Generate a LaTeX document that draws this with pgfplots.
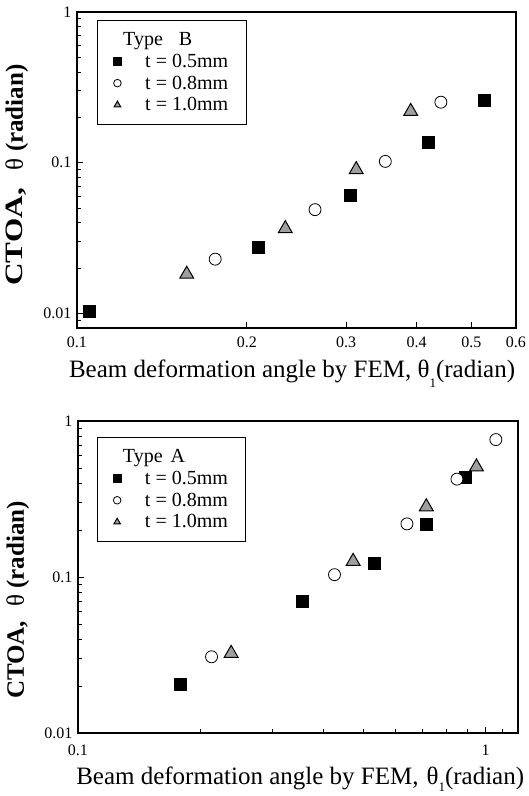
\documentclass[border=0pt]{standalone}
\usepackage{pgfplots}
\pgfplotsset{compat=1.18}
\usepackage{graphicx}
\usepackage{fontspec}
\setmainfont{Liberation Serif}

\pgfplotsset{
  legend image code/.code={\draw[#1, mark size=3.8pt, line width=0.6pt] plot coordinates {(0pt,0pt)};},
  sq/.style={only marks, mark=square*, mark size=6pt, mark options={fill=black, draw=black}},
  ci/.style={only marks, mark=*, mark size=6pt, mark options={fill=white, draw=black, line width=0.8pt}},
  tr/.style={only marks, mark=triangle*, mark size=8pt, mark options={fill=gray!75, draw=black, line width=1pt}},
}

\begin{document}
\begin{tikzpicture}
\path[use as bounding box] (0,0) rectangle (529pt,796pt);

% ---------- Top: Type B ----------
\begin{axis}[
  xmode=log, ymode=log,
  scale only axis,
  axis line style={line width=1.3pt},
  tick align=inside,
  tick pos=left,
  major tick length=6pt,
  minor tick length=4pt,
  every tick/.style={line width=0.9pt, black},
  /pgf/number format/assume math mode=true,
  tick label style={font=\fontsize{16}{18}\selectfont},
  xticklabel style={yshift=-5pt},
  yticklabel style={xshift=-2pt},
  legend cell align=left,
  legend style={font=\fontsize{20}{22}\selectfont, draw=black, line width=0.9pt,
    inner xsep=16pt, inner ysep=10pt, row sep=3pt,
    /tikz/every odd column/.append style={column sep=22pt}},
  at={(77pt,468pt)}, anchor=south west,
  width=439pt, height=316pt,
  xmin=0.1, xmax=0.6, ymin=0.008, ymax=1,
  xtick={0.1,0.2,0.3,0.4,0.5,0.6},
  xticklabels={0.1,0.2,0.3,0.4,0.5,0.6},
  minor xtick={},
  ytick={0.01,0.1,1},
  yticklabels={0.01,0.1,1},
  minor ytick={0.009,0.02,0.03,0.04,0.05,0.06,0.07,0.08,0.09,0.2,0.3,0.4,0.5,0.6,0.7,0.8,0.9},
  xlabel={Beam deformation angle by FEM, θ\raisebox{-0.4em}{\fontsize{13}{13}\selectfont 1}(radian)},
  xlabel style={font=\fontsize{25}{28}\selectfont, at={(axis description cs:0.49,-0.145)}, anchor=center},
  ylabel={\bfseries \scalebox{1.25}[1]{CTOA,}\hspace{18pt}{\mdseries θ} (radian)},
  ylabel style={font=\fontsize{25}{28}\selectfont, at={(axis description cs:-0.137,0.484)}, anchor=center},
  legend style={at={(axis description cs:0.046,0.975)}, anchor=north west},
]
\addlegendimage{empty legend}
\addlegendentry{\hspace*{-22pt}Type\hspace{16pt}B}
\addplot[sq] coordinates {(0.105,0.0103) (0.2095,0.0273) (0.3055,0.0608) (0.42,0.136) (0.527,0.258)};
\addlegendentry{t = 0.5mm}
\addplot[ci] coordinates {(0.1758,0.0229) (0.2642,0.0488) (0.352,0.102) (0.4416,0.252)};
\addlegendentry{t = 0.8mm}
\addplot[tr] coordinates {(0.1565,0.0182) (0.234,0.0365) (0.3126,0.090) (0.3905,0.219)};
\addlegendentry{t = 1.0mm}
\end{axis}

% ---------- Bottom: Type A ----------
\begin{axis}[
  xmode=log, ymode=log,
  scale only axis,
  axis line style={line width=1.3pt},
  tick align=inside,
  tick pos=left,
  major tick length=6pt,
  minor tick length=4pt,
  every tick/.style={line width=0.9pt, black},
  /pgf/number format/assume math mode=true,
  tick label style={font=\fontsize{16}{18}\selectfont},
  xticklabel style={yshift=-8pt},
  yticklabel style={xshift=-2pt},
  legend cell align=left,
  legend style={font=\fontsize{20}{22}\selectfont, draw=black, line width=0.9pt,
    inner xsep=16pt, inner ysep=10pt, row sep=3pt,
    /tikz/every odd column/.append style={column sep=22pt}},
  at={(78pt,63pt)}, anchor=south west,
  width=440pt, height=312pt,
  xmin=0.1, xmax=1.2, ymin=0.01, ymax=1,
  xtick={0.1,1},
  xticklabels={0.1,1},
  minor xtick={0.2,0.3,0.4,0.5,0.6,0.7,0.8,0.9,1.1},
  ytick={0.01,0.1,1},
  yticklabels={0.01,0.1,1},
  minor ytick={0.02,0.03,0.04,0.05,0.06,0.07,0.08,0.09,0.2,0.3,0.4,0.5,0.6,0.7,0.8,0.9},
  xlabel={Beam deformation angle by FEM,\hspace{8pt}θ\raisebox{-0.25em}{\fontsize{13}{13}\selectfont 1}(radian)},
  xlabel style={font=\fontsize{25}{28}\selectfont, at={(axis description cs:0.505,-0.148)}, anchor=center},
  ylabel={\bfseries CTOA,\hspace{14pt}{\mdseries θ} (radian)},
  ylabel style={font=\fontsize{25}{28}\selectfont, at={(axis description cs:-0.137,0.426)}, anchor=center},
  legend style={at={(axis description cs:0.043,0.949)}, anchor=north west},
]
\addlegendimage{empty legend}
\addlegendentry{\hspace*{-22pt}Type\hspace{8pt}A}
\addplot[sq] coordinates {(0.178,0.0206) (0.355,0.0699) (0.532,0.1234) (0.715,0.2168) (0.893,0.439)};
\addlegendentry{t = 0.5mm}
\addplot[ci] coordinates {(0.2126,0.0308) (0.4257,0.1035) (0.641,0.219) (0.850,0.424) (1.059,0.760)};
\addlegendentry{t = 0.8mm}
\addplot[tr] coordinates {(0.2375,0.0324) (0.473,0.126) (0.715,0.282) (0.949,0.508)};
\addlegendentry{t = 1.0mm}
\end{axis}
\end{tikzpicture}
\end{document}
